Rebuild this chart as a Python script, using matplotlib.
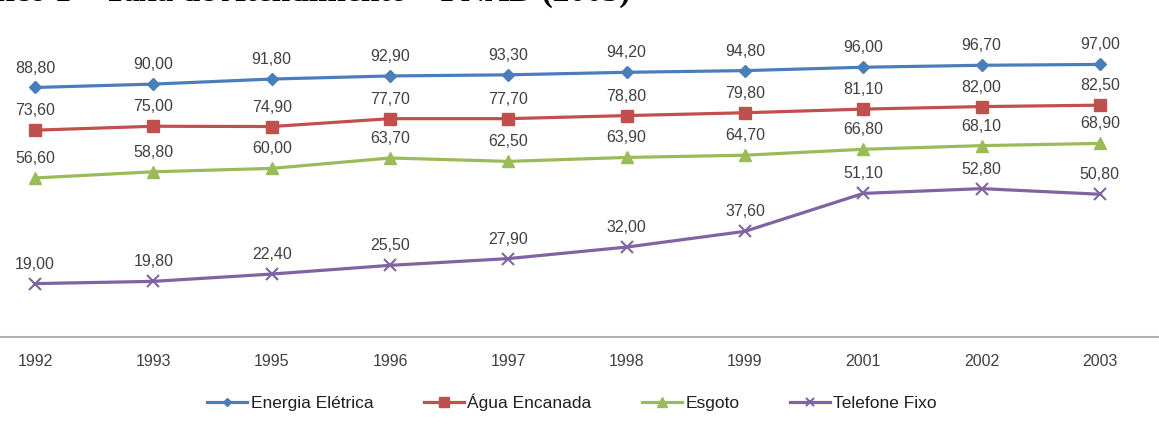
import matplotlib.pyplot as plt

# ── Dados (PNAD) ─────────────────────────────────────────────────────────────
anos = ["1992", "1993", "1995", "1996", "1997", "1998", "1999", "2001", "2002", "2003"]
energia = [88.8, 90.0, 91.8, 92.9, 93.3, 94.2, 94.8, 96.0, 96.7, 97.0]
agua = [73.6, 75.0, 74.9, 77.7, 77.7, 78.8, 79.8, 81.1, 82.0, 82.5]
esgoto = [56.6, 58.8, 60.0, 63.7, 62.5, 63.9, 64.7, 66.8, 68.1, 68.9]
telefone = [19.0, 19.8, 22.4, 25.5, 27.9, 32.0, 37.6, 51.1, 52.8, 50.8]

series = [
    ("Energia Elétrica", energia, "#4A7EBB", "D", 6),
    ("Água Encanada", agua, "#C0504D", "s", 9),
    ("Esgoto", esgoto, "#9BBB59", "^", 9),
    ("Telefone Fixo", telefone, "#8064A2", "x", 8),
]

plt.rcParams["font.family"] = ["Liberation Sans", "DejaVu Sans"]

W, H = 1159, 426
fig = plt.figure(figsize=(W / 100, H / 100), dpi=100)
# axes slightly wider than the figure (the original is a cropped screenshot)
ax = fig.add_axes([-24 / W, (H - 337) / H, 1183 / W, 281 / H])

x = list(range(len(anos)))
for nome, vals, cor, mk, ms in series:
    mew = 1.5 if mk == "x" else 1
    ax.plot(x, vals, color=cor, lw=2.3, marker=mk, markersize=ms,
            markeredgewidth=mew, markerfacecolor=cor, markeredgecolor=cor,
            label=nome, clip_on=False)
    for xi, v in zip(x, vals):
        ax.annotate(f"{v:.2f}".replace(".", ","), (xi, v), xytext=(0, 14),
                    textcoords="offset points", ha="center", va="center",
                    fontsize=11.5, color="#404040", annotation_clip=False)

ax.set_xlim(-0.5, len(anos) - 0.5)
ax.set_ylim(0, 100)
ax.set_yticks([])
ax.set_xticks(x)
ax.set_xticklabels(anos, fontsize=11.5, color="#404040")
ax.tick_params(axis="x", length=0, pad=12)
for s in ["top", "right", "left"]:
    ax.spines[s].set_visible(False)
ax.spines["bottom"].set_color("#B0B0B0")
ax.spines["bottom"].set_linewidth(1.5)

leg = fig.legend(loc="center", bbox_to_anchor=(572 / W, (H - 402) / H), ncol=4,
                 frameon=False, fontsize=12.5, handlelength=2.3, columnspacing=2.9,
                 handletextpad=0.2, labelcolor="#202020", markerscale=0.75)

# título cortado no topo da imagem original
fig.text(-63 / W, (H - 1) / H, "Gráfico 1 – Taxa de Atendimento – PNAD (2003)",
         ha="left", va="baseline", fontsize=24, fontweight="bold",
         family="Liberation Serif")

plt.savefig("out.png", dpi=100)
